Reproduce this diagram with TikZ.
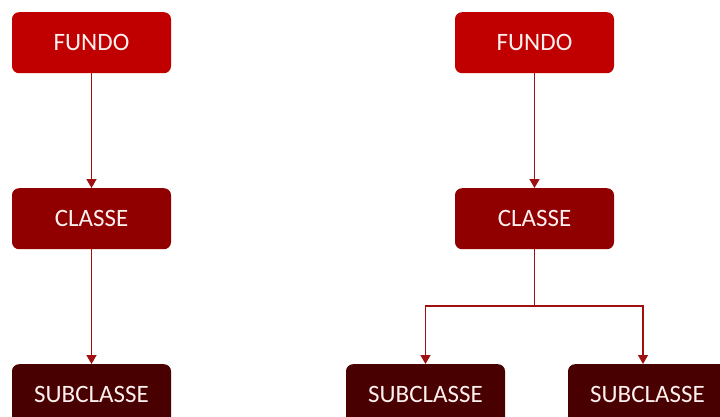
\documentclass[tikz,border=0pt]{standalone}
\usepackage{fontspec}
\setmainfont{Carlito}
\usetikzlibrary{arrows.meta}
\definecolor{fundoc}{HTML}{C00000}
\definecolor{classec}{HTML}{900000}
\definecolor{subc}{HTML}{480000}
\definecolor{linec}{HTML}{A01010}
\tikzset{
  box/.style={rounded corners=7pt, minimum width=159pt, minimum height=61pt, inner sep=0pt,
    text=white!94!red, font=\fontsize{25}{30}\selectfont, anchor=north},
  conn/.style={draw=linec, line width=1.4pt, -{Triangle[length=9pt,width=10pt]}},
  connplain/.style={draw=linec, line width=1.4pt}
}
\begin{document}
\begin{tikzpicture}[x=1pt,y=-1pt]
\useasboundingbox (0,0) rectangle (720,416);
\clip (0,0) rectangle (720,416);
% left tree
\node[box, fill=fundoc] (f1) at (91.5,12) {FUNDO};
\node[box, fill=classec] (c1) at (91.5,188) {CLASSE};
\node[box, fill=subc] (s1) at (91.5,364) {SUBCLASSE};
\draw[conn] (f1.south) -- (c1.north);
\draw[conn] (c1.south) -- (s1.north);
% right tree
\node[box, fill=fundoc] (f2) at (534.5,12) {FUNDO};
\node[box, fill=classec] (c2) at (534.5,188) {CLASSE};
\node[box, fill=subc] (s2) at (425.5,364) {SUBCLASSE};
\node[box, fill=subc] (s3) at (647.5,364) {SUBCLASSE};
\coordinate (j) at (534.5,306);
\coordinate (t3) at ([xshift=-4.5pt]s3.north);
\draw[conn] (f2.south) -- (c2.north);
\draw[connplain] (c2.south) -- (j);
\draw[conn] (j) -| (s2.north);
\draw[conn] (j) -| (t3);
\end{tikzpicture}
\end{document}
